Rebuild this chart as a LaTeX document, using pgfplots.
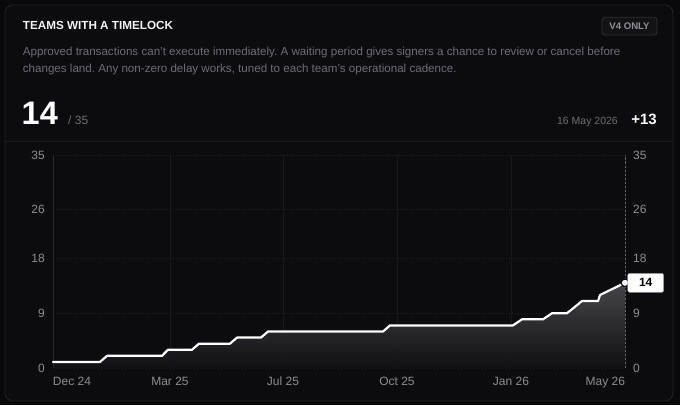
\documentclass[border=0pt]{standalone}
\usepackage{fontspec}
\setmainfont{Liberation Sans}
\usepackage{pgfplots}
\usepackage{pgfplotstable}
\pgfplotsset{compat=1.18}
\definecolor{pagebg}{HTML}{09090B}
\definecolor{cardbg}{HTML}{0C0C10}
\definecolor{cardline}{HTML}{222227}
\definecolor{sepline}{HTML}{1B1B20}
\definecolor{desc}{HTML}{6C6C76}
\definecolor{ticklab}{HTML}{8C8C93}
\definecolor{gridc}{HTML}{24242A}
\definecolor{vgridc}{HTML}{18181D}
\definecolor{axleft}{HTML}{2A2A30}
\definecolor{dashc}{HTML}{64646B}
\definecolor{filltop}{HTML}{4A4A4F}
\definecolor{fillbot}{HTML}{111115}
\definecolor{badgeline}{HTML}{303036}
\definecolor{badgebg}{HTML}{131317}
\definecolor{badgetext}{HTML}{909097}
\definecolor{subtext}{HTML}{6C6C73}
\definecolor{titlec}{HTML}{F2F2F4}
\definecolor{boxline}{HTML}{8A8A90}

% x = position along the time axis (0 = Dec 24 ... 572 = 16 May 2026)
\pgfplotstableread{
x y
0 1
47 1
54 2
109 2
115 3
139 3
146 4
177 4
184 5
208 5
215 6
330 6
337 7
460 7
469 8
490 8
499 9
514 9
529 11
545 11
547 12
572 14
}\series

\begin{document}
\frenchspacing
\begin{tikzpicture}[x=1pt,y=1pt]
\fill[pagebg] (0,0) rectangle (680,405);
\filldraw[fill=cardbg, draw=cardline, line width=0.8pt, rounded corners=8pt] (5,4) rectangle (673,400);
\draw[sepline, line width=0.8pt] (5.4,264) -- (672.6,264);

\node[anchor=base west, inner sep=0pt, text=titlec, font=\fontsize{11.7}{13}\selectfont\bfseries] at (22.7,375) {TEAMS WITH A TIMELOCK};
\filldraw[fill=badgebg, draw=badgeline, line width=0.8pt, rounded corners=3pt] (602,370) rectangle (657,387.7);
\node[inner sep=0pt, text=badgetext, font=\fontsize{9.6}{11}\selectfont\bfseries] at (629.5,378.8) {V4 ONLY};

\node[anchor=base west, inner sep=0pt, text=desc, font=\fontsize{11.6}{13}\selectfont] at (22.7,349) {Approved transactions can't execute immediately. A waiting period gives signers a chance to review or cancel before};
\node[anchor=base west, inner sep=0pt, text=desc, font=\fontsize{11.6}{13}\selectfont] at (22.7,332.5) {changes land. Any non-zero delay works, tuned to each team's operational cadence.};

\node[anchor=base west, inner sep=0pt, text=white, font=\fontsize{32.5}{35}\selectfont\bfseries] at (21.5,280) {14};
\node[anchor=base west, inner sep=0pt, text=subtext, font=\fontsize{12}{14}\selectfont] at (68,280) {/ 35};
\node[anchor=base east, inner sep=0pt, text=subtext, font=\fontsize{10.5}{12}\selectfont] at (618,280) {16 May 2026};
\node[anchor=base east, inner sep=0pt, text=white, font=\fontsize{15}{17}\selectfont\bfseries] at (657,280) {+13};

\begin{axis}[
  at={(53pt,37pt)}, anchor=south west,
  scale only axis, width=572pt, height=213pt,
  xmin=0, xmax=572, ymin=0, ymax=35,
  axis line style={draw=none},
  tick style={draw=none},
  xtick={0,117,230,344,458,572},
  xticklabels={\rlap{Dec 24},Mar 25,Jul 25,Oct 25,Jan 26,\llap{May 26}},
  ytick={0,9,18,26,35},
  xmajorgrids, ymajorgrids,
  x grid style={vgridc, line width=0.8pt},
  y grid style={gridc, line width=0.8pt, dash pattern=on 1pt off 2pt},
  ticklabel style={font=\fontsize{12}{14}\selectfont, text=ticklab},
  xticklabel style={anchor=north, inner sep=0pt, yshift=-9pt},
  yticklabel style={anchor=east, inner sep=0pt, xshift=-8pt},
  /pgf/number format/assume math mode=true,
  clip=false,
]
\addplot[draw=none, top color=filltop, bottom color=fillbot, fill opacity=0.92] table[x=x,y=y] {\series} \closedcycle;
\draw[axleft, line width=0.8pt] (axis cs:0,0) -- (axis cs:0,35);
\draw[dashc, line width=0.9pt, dash pattern=on 2.5pt off 1.5pt] (axis cs:572,0) -- (axis cs:572,35);
\addplot[white, line width=2.2pt, line join=round, line cap=round] table[x=x,y=y] {\series};
\addplot[only marks, mark=*, mark size=3.8pt,
  mark options={fill=white, draw=cardbg, line width=1.2pt},
  nodes near coords={14},
  every node near coord/.append style={anchor=west, xshift=2.5pt, fill=white, draw=boxline, line width=0.4pt, text=black,
    rounded corners=2pt, minimum width=36pt, minimum height=19pt, inner sep=0pt,
    font=\fontsize{12}{14}\selectfont\bfseries}]
  coordinates {(572,14)};
\end{axis}

\begin{axis}[
  at={(53pt,37pt)}, anchor=south west,
  scale only axis, width=572pt, height=213pt,
  xmin=0, xmax=572, ymin=0, ymax=35,
  axis line style={draw=none},
  tick style={draw=none},
  xtick=\empty,
  ytick={0,9,18,26,35},
  yticklabel pos=right,
  yticklabel style={anchor=west, inner sep=0pt, xshift=8pt, font=\fontsize{12}{14}\selectfont, text=ticklab},
  /pgf/number format/assume math mode=true,
]
\end{axis}

\pgfresetboundingbox
\path[use as bounding box] (0,0) rectangle (680,405);
\end{tikzpicture}
\end{document}
